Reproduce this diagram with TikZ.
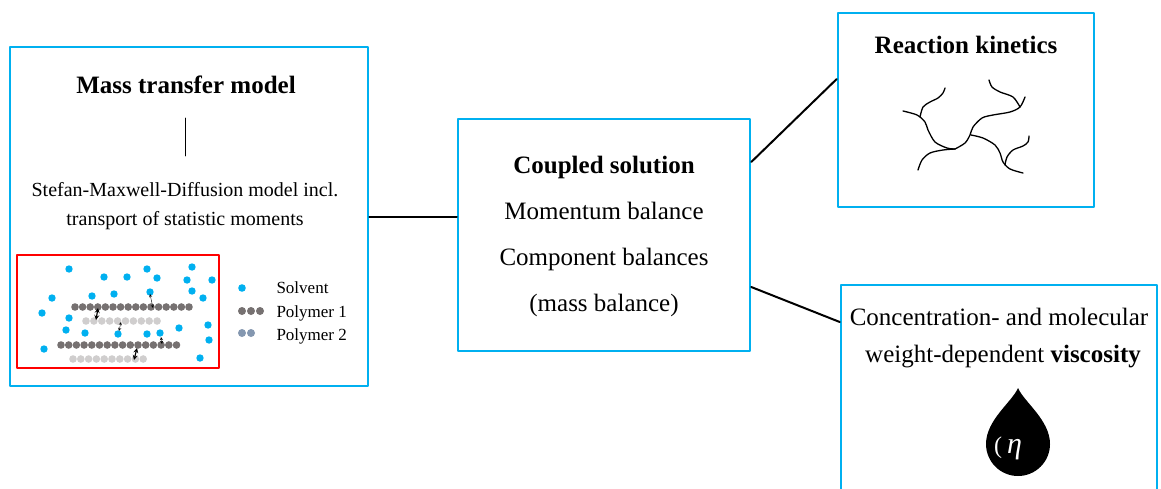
\documentclass[tikz,border=0pt]{standalone}
\usepackage{fontspec}
\setmainfont{Liberation Serif}
\usetikzlibrary{arrows.meta}
\definecolor{boxblue}{RGB}{0,176,240}
\definecolor{solvent}{RGB}{0,176,240}
\definecolor{polyone}{RGB}{118,113,113}
\definecolor{polytwo}{RGB}{132,151,176}
\definecolor{polylight}{RGB}{208,206,206}
\tikzset{
	block/.style={draw=boxblue, line width=2.5pt, inner sep=0pt},
	link/.style={line width=2pt},
	chain/.style={line width=1.3pt},
	big/.style={font=\fontsize{25}{30}\selectfont},
	small/.style={font=\fontsize{20}{24}\selectfont},
	legend/.style={font=\fontsize{17}{20}\selectfont, anchor=base west},
	sdot/.style={fill=solvent},
}
\begin{document}
\begin{tikzpicture}[x=1pt, y=-1pt, >=stealth, line join=round, line cap=round]
		\clip (0,0) rectangle (1161,488);
		% boxes
		\node[block, minimum width=358pt, minimum height=339pt] (mass) at (189,216.5) {};
		\node[block, minimum width=292pt, minimum height=232pt] (coupled) at (604,235) {};
		\node[block, minimum width=256pt, minimum height=194pt] (kinetics) at (966,110) {};
		\node[block, minimum width=316pt, minimum height=230pt] (visc) at (999,400) {};
		% connectors
		\draw[link] (mass.east) -- (mass.east -| coupled.west);
		\draw[link] ([yshift=73pt]coupled.east) -- ([yshift=31pt]kinetics.west);
		\draw[link] ([yshift=-52pt]coupled.east) -- ([yshift=78pt]visc.west);
		% mass transfer model
		\node[big, anchor=base] (masstitle) at (186,93) {\textbf{Mass transfer model}};
		\draw[thick] (185,118) -- (185,156);
		\node[small, anchor=base] (sm1) at (185,196) {Stefan-Maxwell-Diffusion model incl.};
		\node[small, anchor=base] (sm2) at (185,225) {transport of statistic moments};
		\draw[red, line width=1.4pt] (17,255) rectangle (219,368);
		\foreach \p in {(69,269),(104,277),(127,277),(147,269),(157,278),(192,267),(187,280),(212,280),
			(52,298),(92,296),(114,294),(150,292),(192,291),(203,298),(42,313),(69,318),(66,330),
			(85,333),(118,334),(147,334),(160,333),(179,328),(208,325),(209,340),(44,349),(200,358)}
		\fill[sdot] \p circle (3.7);
		% polymer chains
		\foreach \i in {0,...,15} \fill[polyone] (75+7.6*\i,307) circle (3.8);
		\foreach \i in {0,...,9} \fill[polylight] (86+7.9*\i,321) circle (3.8);
		\foreach \i in {0,...,15} \fill[polyone] (61+7.7*\i,345) circle (3.8);
		\foreach \i in {0,...,9} \fill[polylight] (73+7.8*\i,359) circle (3.8);
		\draw[<->, line width=1.2pt] (98,308) -- (96,320);
		\draw[<->, line width=1.2pt] (137,348) -- (134,360);
		\draw[<->, thin] (150,294) -- (153,308);
		\draw[<->, thin] (121,322) -- (119,331);
		\draw[<->, thin] (161,337) -- (162,344);
		% legend
		\fill[sdot] (242,288) circle (3.8);
		\foreach \x in {242,251,260} \fill[polyone] (\x,311) circle (4);
		\foreach \x in {242,251} \fill[polytwo] (\x,333) circle (4);
		\node[legend] (lsolv) at (273,293) {Solvent};
		\node[legend] (lpone) at (273,317) {Polymer 1};
		\node[legend] (lptwo) at (273,340) {Polymer 2};
		% coupled solution
		\node[big, anchor=base] (ctitle) at (604,173) {\textbf{Coupled solution}};
		\node[big, anchor=base] (c1) at (604,219) {Momentum balance};
		\node[big, anchor=base] (c2) at (604,265) {Component balances};
		\node[big, anchor=base] (c3) at (604,311) {(mass balance)};
		% reaction kinetics
		\node[big, anchor=base] (ktitle) at (966,53) {\textbf{Reaction kinetics}};
		\draw[chain] plot[smooth] coordinates {(903,111) (917,115) (925,122) (928,130) (935,142) (947,148) (955,149)};
		\draw[chain] plot[smooth] coordinates {(920,117) (923,107) (930,102) (938,98) (943,93) (945,88)};
		\draw[chain] plot[smooth] coordinates {(955,149) (965,143) (970,135) (973,127) (982,118) (993,115) (1010,112) (1020,107) (1025,97)};
		\draw[chain] plot[smooth] coordinates {(1020,107) (1013,97) (1000,92) (992,87) (989,80)};
		\draw[chain] plot[smooth] coordinates {(955,149) (943,150) (930,153) (922,160) (918,170)};
		\draw[chain] plot[smooth] coordinates {(971,135) (983,138) (995,145) (1000,153) (1003,162) (1010,169) (1023,173)};
		\draw[chain] plot[smooth] coordinates {(1005,165) (1007,157) (1013,150) (1023,146) (1028,142) (1029,136)};
		% viscosity
		\node[big, anchor=base] (v1) at (999,325) {Concentration- and molecular};
		\node[big, anchor=base] (v2) at (1003,362) {weight-dependent \textbf{viscosity}};
		\fill (1018,388) .. controls (1024,402) and (1050,420) .. (1050,444)
			arc (0:180:32) .. controls (986,420) and (1012,402) .. (1018,388);
		\node[white, font=\fontsize{30}{32}\selectfont, anchor=base] (eta) at (1008,453) {{\fontsize{24}{26}\selectfont(}\,\textit{η}};
\end{tikzpicture}
\end{document}
